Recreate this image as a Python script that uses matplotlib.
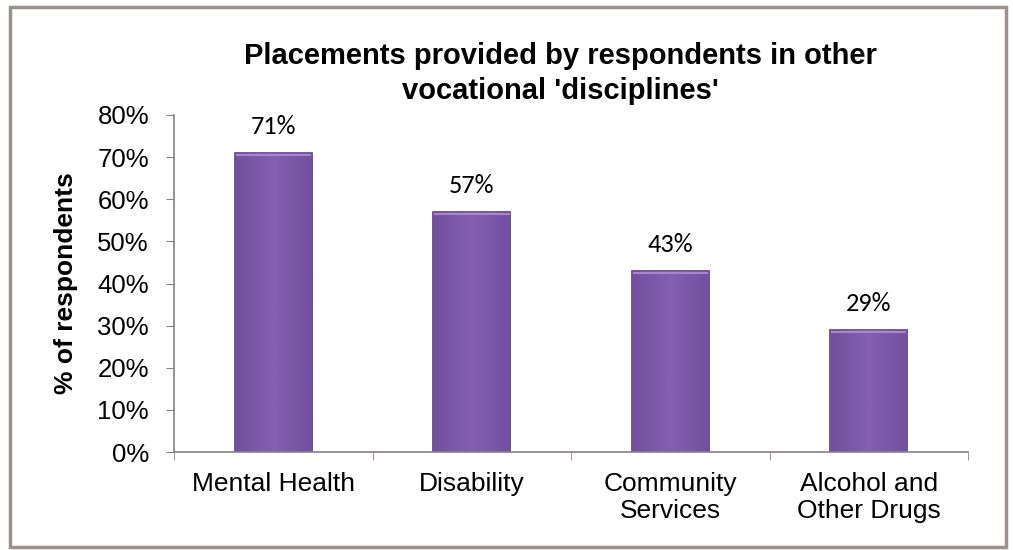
import matplotlib.pyplot as plt
from matplotlib.patches import Rectangle
from matplotlib.colors import LinearSegmentedColormap
import numpy as np

# Dados do gráfico
categorias = ['Mental Health', 'Disability', 'Community\nServices', 'Alcohol and\nOther Drugs']
valores = [71, 57, 43, 29]
rotulos = ['71%', '57%', '43%', '29%']
ticks_y = [0, 10, 20, 30, 40, 50, 60, 70, 80]

plt.rcParams['font.family'] = ['Liberation Sans', 'DejaVu Sans']

fig = plt.figure(figsize=(10.13, 5.5), dpi=100)
ax = fig.add_axes([0.1718, 0.178, 0.7838, 0.613])

x = np.arange(len(categorias))
barras = ax.bar(x, valores, width=0.39, color='#7a54a8', edgecolor='#5b3b85', linewidth=1.2, zorder=2)

# gradiente horizontal suave dentro de cada barra
grad = np.linspace(0, 1, 64)
grad = 1 - np.abs(grad - 0.5) * 2
grad = grad[np.newaxis, :]
cmap = LinearSegmentedColormap.from_list('roxo', ['#734f9f', '#845fb2'])
for b in barras:
    x0, w, h = b.get_x(), b.get_width(), b.get_height()
    im = ax.imshow(grad, cmap=cmap, extent=(x0, x0 + w, 0, h), aspect='auto', zorder=2.2)
    im.set_clip_path(b)
    ax.plot([x0 + 0.01, x0 + w - 0.01], [h - 0.6, h - 0.6], color='#a688c9', lw=1.5, zorder=2.4)

for xi, v, r in zip(x, valores, rotulos):
    ax.text(xi, v + 3.6, r, ha='center', va='bottom', fontsize=19, family=['Carlito', 'Liberation Sans'])

ax.set_xlim(-0.5, len(categorias) - 0.5)
ax.set_ylim(0, 80)
ax.set_yticks(ticks_y)
ax.set_yticklabels([f'{t}%' for t in ticks_y], fontsize=18.5)
ax.set_xticks(x)
ax.set_xticklabels(categorias, fontsize=19, linespacing=1.2)
ax.tick_params(axis='x', length=0, pad=14)
ax.set_xticks(np.arange(-0.5, len(categorias)), minor=True)
ax.tick_params(axis='x', which='minor', length=6, color='#8a8080', direction='out')
ax.tick_params(axis='y', length=6, color='#8a8080', direction='out', pad=12)

for s in ['top', 'right']:
    ax.spines[s].set_visible(False)
for s in ['left', 'bottom']:
    ax.spines[s].set_color('#8a8080')
    ax.spines[s].set_linewidth(1.2)

ax.set_ylabel('% of respondents', fontsize=19, fontweight='bold', labelpad=14)
fig.text(0.553, 0.866, "Placements provided by respondents in other\nvocational 'disciplines'",
         ha='center', va='center', fontsize=21, fontweight='bold', linespacing=1.3)

# moldura externa
fig.patches.append(Rectangle((0.01, 0.005), 0.983, 0.983, transform=fig.transFigure,
                             fill=False, edgecolor='#9a908c', linewidth=2.5))

plt.savefig('out.png', dpi=100)
